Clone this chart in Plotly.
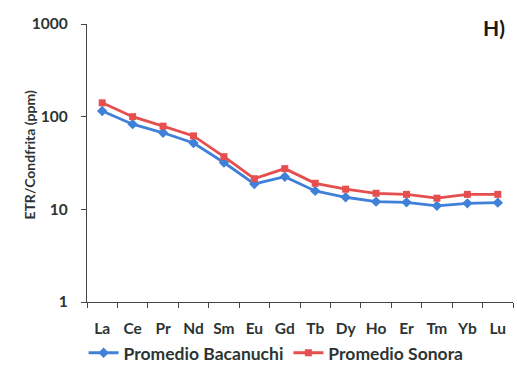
import plotly.graph_objects as go

# Rare earth elements (chondrite-normalised averages)
elements = ["La", "Ce", "Pr", "Nd", "Sm", "Eu", "Gd", "Tb", "Dy", "Ho", "Er", "Tm", "Yb", "Lu"]
bacanuchi = [115, 83, 67, 52, 32, 18.8, 22.5, 15.8, 13.5, 12.1, 11.9, 10.9, 11.6, 11.8]
sonora = [141, 100, 79, 62, 37, 21.4, 27.5, 19.1, 16.5, 14.9, 14.5, 13.2, 14.5, 14.5]
y_ticks = [1, 10, 100, 1000]

BLUE = "#3f80d8"
RED = "#e5504e"
TXT = "#2c3533"
FONT = "Lato"
FS = 15.5

fig = go.Figure()
fig.add_trace(go.Scatter(
    x=elements, y=bacanuchi, name="Promedio Bacanuchi", mode="lines+markers",
    line=dict(color=BLUE, width=2.8),
    marker=dict(symbol="diamond", size=8, color=BLUE),
))
fig.add_trace(go.Scatter(
    x=elements, y=sonora, name="Promedio Sonora", mode="lines+markers",
    line=dict(color=RED, width=2.8),
    marker=dict(symbol="square", size=7, color=RED),
))

fig.update_layout(
    width=517, height=368,
    margin=dict(l=87, r=4, t=24, b=66, autoexpand=False),
    paper_bgcolor="white", plot_bgcolor="white",
    font=dict(family=FONT, color=TXT, size=FS),
    showlegend=True,
    legend=dict(
        orientation="h", x=-0.008, y=-0.183, xanchor="left", yanchor="middle",
        font=dict(family=FONT, size=17.5, color=TXT, weight="bold"),
        itemwidth=30, tracegroupgap=0, bgcolor="rgba(0,0,0,0)",
    ),
    xaxis=dict(
        type="category", tickson="boundaries", ticks="outside", ticklen=5,
        tickcolor="#444", showline=True, linecolor="#444", linewidth=1.2,
        showgrid=False, zeroline=False, range=[-0.5, 13.5],
        ticklabelstandoff=12, automargin=False,
        tickfont=dict(family=FONT, size=FS, color=TXT, weight="bold"),
    ),
    yaxis=dict(
        type="log", range=[0, 3], tickvals=y_ticks,
        ticktext=[str(v) for v in y_ticks],
        ticks="outside", ticklen=5, tickcolor="#444",
        showline=True, linecolor="#444", linewidth=1.2,
        showgrid=False, zeroline=False, ticklabelstandoff=10, automargin=False,
        tickfont=dict(family=FONT, size=FS, color=TXT, weight="bold"),
    ),
    annotations=[
        dict(
            text="<b>H)</b>", x=1.0, y=1.0, xref="paper", yref="paper",
            xanchor="right", yanchor="middle", showarrow=False, xshift=-6, yshift=-3,
            font=dict(family=FONT, size=21, color="#1a1a1a"),
        ),
        # y-axis title placed as rotated text beside the tick labels
        dict(
            text="<b>ETR/Condfrita (ppm)</b>", x=-0.134, y=0.53,
            xref="paper", yref="paper", xanchor="center", yanchor="middle",
            textangle=-90, showarrow=False,
            font=dict(family=FONT, size=14, color=TXT),
        ),
    ],
)

fig.write_html("out.html")
